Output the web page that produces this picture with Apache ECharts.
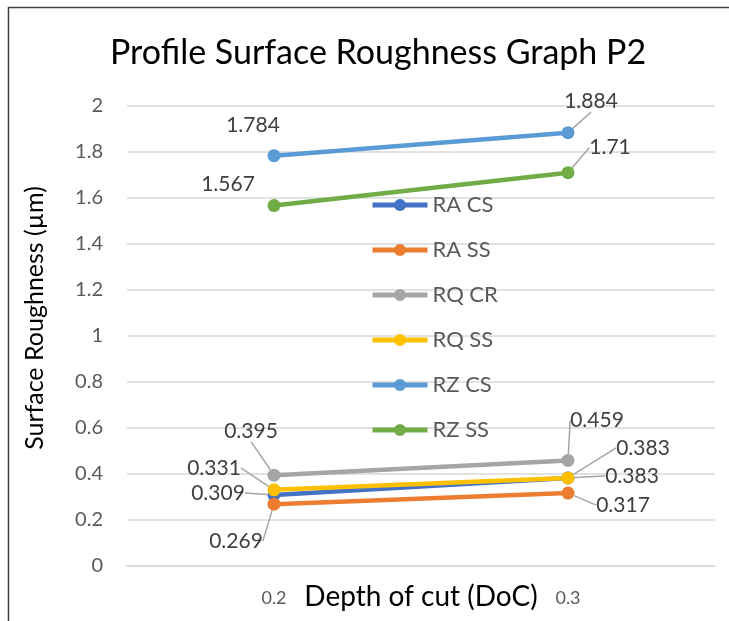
<!DOCTYPE html>
<html>
<head>
<meta charset="utf-8">
<script src="https://cdn.jsdelivr.net/npm/echarts@6/dist/echarts.min.js"></script>
<style>
  html, body { margin: 0; padding: 0; background: #fff; }
  #chart { width: 729px; height: 621px; }
</style>
</head>
<body>
<div id="chart"></div>
<script>
// Depth of cut categories
const depthOfCut = ['0.2', '0.3'];

// Roughness readings (µm) per parameter / condition
const raCS = [0.309, 0.383];
const raSS = [0.269, 0.317];
const rqCR = [0.395, 0.459];
const rqSS = [0.331, 0.383];
const rzCS = [1.784, 1.884];
const rzSS = [1.567, 1.71];

const seriesNames = ['RA CS', 'RA SS', 'RQ CR', 'RQ SS', 'RZ CS', 'RZ SS'];
const seriesValues = [raCS, raSS, rqCR, rqSS, rzCS, rzSS];
const seriesColors = ['#4472C4', '#ED7D31', '#A5A5A5', '#FFC000', '#5B9BD5', '#70AD47'];

// Label offsets from each marker (px) and whether a leader line is drawn
const labelShift = [
  [[-56, -2], [64, -2]],
  [[-38, 37], [55, 12]],
  [[-23, -44], [29, -40]],
  [[-60, -22], [75, -30]],
  [[-21, -30], [23, -31]],
  [[-46, -21], [42, -25]]
];
const labelLeader = [
  [true, true],
  [true, true],
  [true, true],
  [true, true],
  [false, true],
  [false, true]
];

const FONT = 'Lato, "Open Sans", sans-serif';

const chart = echarts.init(document.getElementById('chart'), null, { renderer: 'canvas' });

const series = seriesNames.map((name, s) => ({
  name: name,
  type: 'line',
  data: seriesValues[s].map((v, i) => ({
    value: v,
    labelLine: { show: labelLeader[s][i] }
  })),
  symbol: 'circle',
  symbolSize: 13,
  lineStyle: { width: 4.5, color: seriesColors[s] },
  itemStyle: { color: seriesColors[s] },
  label: {
    show: true,
    position: 'inside',
    color: '#404040',
    fontFamily: FONT,
    fontSize: 21
  },
  labelLine: {
    show: true,
    lineStyle: { color: '#A6A6A6', width: 1.5 }
  },
  labelLayout: function (p) {
    const d = labelShift[s][p.dataIndex];
    return { dx: d[0], dy: d[1] };
  },
  emphasis: { disabled: true },
  animation: false
}));

chart.setOption({
  backgroundColor: '#ffffff',
  animation: false,
  title: {
    text: 'Profile Surface Roughness Graph P2',
    left: 105,
    top: 31,
    textStyle: { fontFamily: FONT, fontSize: 34, fontWeight: 'normal', color: '#000000' }
  },
  graphic: [{
    type: 'rect',
    shape: { x: 8.5, y: 7.5, width: 760, height: 660 },
    style: { fill: 'none', stroke: '#404040', lineWidth: 1.5 },
    silent: true,
    z: -1
  }],
  legend: {
    orient: 'vertical',
    left: 365,
    top: 189,
    itemWidth: 55,
    itemHeight: 15,
    itemGap: 23,
    data: seriesNames,
    lineStyle: { width: 5 },
    textStyle: { fontFamily: FONT, fontSize: 22, color: '#595959' }
  },
  grid: { left: 127, right: 14, top: 106, bottom: 55, containLabel: false, outerBoundsMode: 'none' },
  xAxis: {
    type: 'category',
    data: depthOfCut,
    boundaryGap: true,
    axisLine: { show: true, lineStyle: { color: '#D9D9D9', width: 1.5 } },
    axisTick: { show: false },
    axisLabel: { margin: 23, fontFamily: FONT, fontSize: 18, color: '#595959' },
    name: 'Depth of cut (DoC)',
    nameLocation: 'middle',
    nameGap: 17,
    nameMoveOverlap: false,
    nameTextStyle: { fontFamily: FONT, fontSize: 28, color: '#000000' }
  },
  yAxis: {
    type: 'value',
    min: 0,
    max: 2,
    interval: 0.2,
    axisLine: { show: false },
    axisTick: { show: false },
    splitLine: { lineStyle: { color: '#D9D9D9', width: 1.5 } },
    axisLabel: { margin: 24, fontFamily: FONT, fontSize: 20, color: '#595959' },
    name: 'Surface Roughness (µm)',
    nameLocation: 'middle',
    nameGap: 80,
    nameMoveOverlap: false,
    nameTextStyle: { fontFamily: FONT, fontSize: 25, color: '#000000', padding: [0, 0, 0, 36] }
  },
  series: series
});
</script>
</body>
</html>
